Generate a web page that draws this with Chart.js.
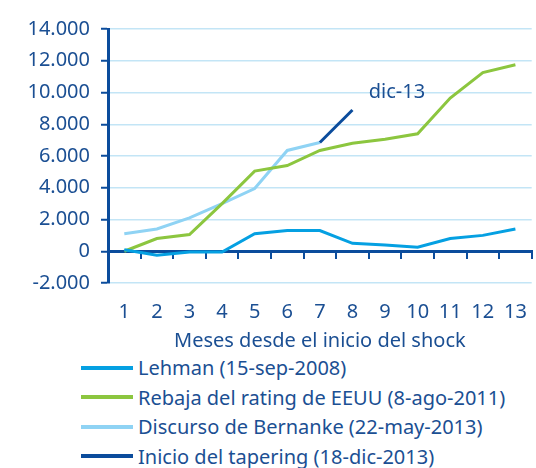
<!DOCTYPE html>
<html lang="es">
<head>
    <meta charset="UTF-8">
    <title>Meses desde el inicio del shock</title>
    <script src="https://cdn.jsdelivr.net/npm/chart.js"></script>
    <style>
        body {
            margin: 0;
            font-family: 'Noto Sans', sans-serif;
            background-color: #FFFFFF;
            color: #1b4f93;
        }
        #chart-box {
            position: relative;
            width: 536px;
            height: 353px;
        }
        #legend-container {
            padding-left: 81px;
        }
        .legend-item {
            display: flex;
            align-items: center;
            height: 29.5px;
            font-size: 20px;
        }
        .legend-color {
            width: 52px;
            height: 4px;
            margin-right: 5px;
        }
    </style>
</head>
<body>
    <div id="chart-box"><canvas id="myChart"></canvas></div>
    <div id="legend-container"></div>

    <script>
        var months = ['1', '2', '3', '4', '5', '6', '7', '8', '9', '10', '11', '12', '13'];
        var lehman = [100, -250, -50, -50, 1100, 1300, 1300, 500, 400, 250, 800, 1000, 1400];
        var rebaja = [0, 800, 1050, 3000, 5050, 5400, 6350, 6800, 7050, 7400, 9650, 11250, 11750];
        var bernanke = [1100, 1400, 2100, 3000, 3950, 6350, 6850, null, null, null, null, null, null];
        var tapering = [null, null, null, null, null, null, 6850, 8900, null, null, null, null, null];
        var seriesNames = [
            'Lehman (15-sep-2008)',
            'Rebaja del rating de EEUU (8-ago-2011)',
            'Discurso de Bernanke (22-may-2013)',
            'Inicio del tapering (18-dic-2013)'
        ];
        var yTicks = [-2000, 0, 2000, 4000, 6000, 8000, 10000, 12000, 14000];

        var textColor = '#1b4f93';
        var axisColor = '#0b4c9c';
        var gridColor = '#c3e5f6';
        var colors = ['#05a0e2', '#8cc63f', '#8fd3f4', '#0b4c9c'];
        var font = { family: 'Noto Sans', size: 20 };

        function fmt(v) {
            var s = Math.abs(v).toString().replace(/\B(?=(\d{3})+(?!\d))/g, '.');
            return (v < 0 ? '-' : '') + s;
        }

        // "dic-13" label next to the tapering line
        var notePlugin = {
            id: 'note',
            afterDatasetsDraw: function(chart) {
                var c = chart.ctx;
                c.save();
                c.font = '20px "Noto Sans"';
                c.fillStyle = textColor;
                c.textAlign = 'left';
                c.textBaseline = 'middle';
                c.fillText('dic-13', chart.scales.x.getPixelForValue(7.5), chart.scales.y.getPixelForValue(10000));
                c.restore();
            }
        };

        var allSeries = [lehman, rebaja, bernanke, tapering];
        var datasets = allSeries.map(function(d, i) {
            return {
                label: seriesNames[i],
                data: d,
                borderColor: colors[i],
                backgroundColor: colors[i],
                borderWidth: 3,
                pointRadius: 0,
                tension: 0,
                spanGaps: false,
                order: [2, 3, 4, 1][i]
            };
        });

        var ctx = document.getElementById('myChart').getContext('2d');
        var myChart = new Chart(ctx, {
            type: 'line',
            data: { labels: months, datasets: datasets },
            plugins: [notePlugin],
            options: {
                responsive: true,
                maintainAspectRatio: false,
                animation: false,
                layout: { padding: { top: 29, right: 4, left: 0, bottom: 0 } },
                scales: {
                    x: {
                        offset: true,
                        grid: { display: false },
                        border: { display: false },
                        ticks: { color: textColor, font: font, padding: 9, maxRotation: 0, autoSkip: false },
                        title: {
                            display: true,
                            text: 'Meses desde el inicio del shock',
                            color: textColor,
                            font: font,
                            padding: { top: 0, bottom: 0 }
                        },
                        afterFit: function(s) { s.height = 70; }
                    },
                    x2: {
                        type: 'category',
                        position: { y: 0 },
                        offset: true,
                        grid: {
                            offset: true,
                            drawOnChartArea: false,
                            drawTicks: true,
                            tickLength: 6,
                            color: axisColor,
                            lineWidth: 2
                        },
                        border: { color: axisColor, width: 3 },
                        ticks: { display: false }
                    },
                    y: {
                        min: -2000,
                        max: 14000,
                        afterBuildTicks: function(s) {
                            s.ticks = yTicks.map(function(v) { return { value: v }; });
                        },
                        afterFit: function(s) { s.width = 108; },
                        grid: {
                            color: gridColor,
                            lineWidth: 1.5,
                            tickColor: axisColor,
                            tickLength: 7,
                            tickWidth: 2
                        },
                        border: { color: axisColor, width: 3 },
                        ticks: {
                            color: textColor,
                            font: font,
                            padding: 11,
                            callback: function(value) { return fmt(value); }
                        }
                    }
                },
                plugins: {
                    legend: { display: false },
                    tooltip: { enabled: false }
                }
            }
        });

        // Custom legend
        var legendContainer = document.getElementById('legend-container');
        seriesNames.forEach(function(label, index) {
            var legendItem = document.createElement('div');
            legendItem.classList.add('legend-item');

            var legendColor = document.createElement('div');
            legendColor.classList.add('legend-color');
            legendColor.style.backgroundColor = colors[index];

            var legendLabel = document.createElement('div');
            legendLabel.textContent = label;

            legendItem.appendChild(legendColor);
            legendItem.appendChild(legendLabel);
            legendContainer.appendChild(legendItem);
        });
    </script>
</body>
</html>
